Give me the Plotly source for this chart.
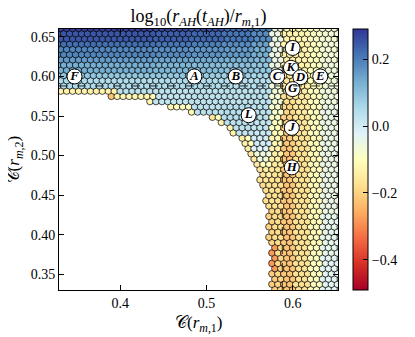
import numpy as np
import plotly.graph_objects as go

# --- read-off data ---------------------------------------------------------
# colour table: value of log10(r_AH(t_AH)/r_m,1) read per block
# columns = C(r_m,1) block centres, rows = C(r_m,2) block centres (top -> bottom)
tab_c1 = [0.34, 0.38, 0.42, 0.46, 0.50, 0.54, 0.568, 0.583, 0.596, 0.61, 0.625, 0.642]
tab_c2 = [0.66, 0.65, 0.64, 0.63, 0.62, 0.61, 0.60, 0.59, 0.58, 0.57, 0.56, 0.55,
          0.54, 0.53, 0.52, 0.51, 0.50, 0.49, 0.48, 0.47, 0.46, 0.45, 0.44, 0.43,
          0.42, 0.41, 0.40, 0.39, 0.38, 0.37, 0.36, 0.35, 0.34, 0.33]
n = np.nan
tab_val = [
    [0.28, 0.28, 0.28, 0.27, 0.26, 0.23, 0.20, -0.05, -0.12, -0.12, -0.09, -0.07],
    [0.25, 0.25, 0.25, 0.24, 0.23, 0.21, 0.18, -0.05, -0.13, -0.12, -0.09, -0.07],
    [0.22, 0.22, 0.22, 0.21, 0.20, 0.18, 0.15, -0.05, -0.13, -0.13, -0.10, -0.07],
    [0.19, 0.19, 0.19, 0.18, 0.17, 0.16, 0.13, -0.05, -0.14, -0.13, -0.10, -0.07],
    [0.16, 0.16, 0.16, 0.15, 0.14, 0.13, 0.11, -0.05, -0.14, -0.13, -0.10, -0.07],
    [0.13, 0.13, 0.13, 0.12, 0.11, 0.10, 0.09, -0.05, -0.15, -0.13, -0.10, -0.06],
    [0.09, 0.09, 0.09, 0.09, 0.08, 0.07, 0.06, -0.05, -0.15, -0.14, -0.10, -0.06],
    [0.05, 0.05, 0.05, 0.05, 0.05, 0.04, 0.04, -0.06, -0.16, -0.14, -0.10, -0.06],
    [-0.13, -0.13, 0.03, 0.03, 0.03, 0.03, 0.03, -0.07, -0.17, -0.15, -0.10, -0.06],
    [-0.13, -0.13, -0.12, 0.02, 0.03, 0.03, 0.03, -0.07, -0.18, -0.15, -0.10, -0.06],
    [n, n, n, -0.10, 0.03, 0.04, 0.03, -0.08, -0.19, -0.15, -0.10, -0.05],
    [n, n, n, n, -0.10, 0.04, 0.03, -0.09, -0.20, -0.16, -0.10, -0.05],
    [n, n, n, n, n, 0.03, 0.02, -0.10, -0.20, -0.16, -0.10, -0.05],
    [n, n, n, n, n, 0.02, 0.01, -0.11, -0.21, -0.16, -0.10, -0.05],
    [n, n, n, n, n, -0.10, 0.00, -0.12, -0.21, -0.17, -0.11, -0.05],
    [n, n, n, n, n, -0.12, -0.02, -0.13, -0.22, -0.17, -0.11, -0.05],
    [n, n, n, n, n, n, -0.06, -0.14, -0.22, -0.17, -0.11, -0.05],
    [n, n, n, n, n, n, -0.10, -0.15, -0.22, -0.17, -0.11, -0.05],
    [n, n, n, n, n, n, -0.14, -0.16, -0.22, -0.17, -0.11, -0.05],
    [n, n, n, n, n, n, -0.16, -0.17, -0.22, -0.17, -0.11, -0.05],
    [n, n, n, n, n, n, -0.17, -0.17, -0.22, -0.17, -0.11, -0.05],
    [n, n, n, n, n, n, -0.17, -0.17, -0.22, -0.17, -0.11, -0.05],
    [n, n, n, n, n, n, -0.17, -0.17, -0.22, -0.17, -0.11, -0.05],
    [n, n, n, n, n, n, -0.17, -0.18, -0.22, -0.17, -0.11, -0.05],
    [n, n, n, n, n, n, -0.17, -0.18, -0.22, -0.17, -0.11, -0.04],
    [n, n, n, n, n, n, -0.17, -0.18, -0.22, -0.17, -0.11, -0.04],
    [n, n, n, n, n, n, -0.18, -0.18, -0.22, -0.17, -0.11, -0.04],
    [n, n, n, n, n, n, -0.18, -0.18, -0.22, -0.17, -0.11, -0.04],
    [n, n, n, n, n, n, -0.18, -0.18, -0.22, -0.17, -0.10, -0.04],
    [n, n, n, n, n, n, -0.18, -0.19, -0.22, -0.17, -0.10, -0.03],
    [n, n, n, n, n, n, -0.18, -0.19, -0.22, -0.17, -0.10, -0.03],
    [n, n, n, n, n, n, -0.18, -0.19, -0.22, -0.17, -0.10, -0.03],
    [n, n, n, n, n, n, -0.18, -0.19, -0.22, -0.17, -0.10, -0.03],
    [n, n, n, n, n, n, -0.18, -0.19, -0.22, -0.17, -0.10, -0.03],
]

# left edge of the sampled region below the dashed line, and colour of the edge cell
bnd_c2 = [0.325, 0.350, 0.362, 0.414, 0.4525, 0.478, 0.492, 0.513, 0.535, 0.55, 0.555, 0.560, 0.567, 0.5745, 0.578]
bnd_c1 = [0.578, 0.577, 0.577, 0.574, 0.570, 0.562, 0.557, 0.547, 0.525, 0.502, 0.482, 0.467, 0.440, 0.394, 0.330]
bnd_val = [-0.21, -0.21, -0.28, -0.2, -0.18, -0.16, -0.15, -0.14, -0.13, -0.16, -0.12, -0.12, -0.12, -0.22, -0.13]

# labelled models
lab_names = ["F", "A", "B", "C", "K", "D", "E", "G", "I", "L", "J", "H"]
lab_c1 = [0.347, 0.486, 0.534, 0.582, 0.598, 0.609, 0.632, 0.600, 0.600, 0.549, 0.599, 0.599]
lab_c2 = [0.600, 0.600, 0.600, 0.600, 0.611, 0.599, 0.600, 0.584, 0.636, 0.551, 0.535, 0.485]

# --- hex lattice of samples ------------------------------------------------
dx = 0.0069
dy = 0.0066
xs, ys, vs = [], [], []
for k in range(-40, 14):
    y = 0.5815 + k * dy
    if y < 0.324 or y > 0.666:
        continue
    off = 0.5 * dx if k % 2 else 0.0
    first = True
    for x in np.arange(0.331 + off - dx, 0.657, dx):
        if y < 0.579 and x < np.interp(y, bnd_c2, bnd_c1) - 0.4 * dx:
            continue
        iy = int(np.argmin(np.abs(np.array(tab_c2) - y)))
        if y < 0.579 and first:
            ib = int(np.argmin(np.abs(np.array(bnd_c2) - y)))
            v = bnd_val[ib]
        else:
            row = np.array(tab_val[iy])
            ix = int(np.argmin(np.abs(np.array(tab_c1) - x)))
            v = row[ix]
            while np.isnan(v):
                ix += 1
                v = row[ix]
        first = False
        xs.append(x)
        ys.append(y)
        vs.append(v)

fig = go.Figure()

fig.add_trace(go.Scatter(
    x=xs, y=ys, mode="markers",
    marker=dict(
        size=6.6, color=vs, colorscale="RdYlBu", cmin=-0.49, cmax=0.29,
        line=dict(color="black", width=0.7),
        colorbar=dict(
            thickness=15, len=1.0, y=0.5, yanchor="middle", ypad=0,
            x=1.053, xanchor="left", xpad=0,
            outlinewidth=1, outlinecolor="black",
            ticks="inside", ticklen=5, tickcolor="black",
            tickvals=[-0.4, -0.2, 0.0, 0.2],
            ticktext=["\u22120.4", "\u22120.2", "0.0", "0.2"],
            tickfont=dict(size=14, color="black", family="Liberation Serif"),
        ),
    ),
    showlegend=False, hoverinfo="skip",
))

# Dashed Guide Lines #
fig.add_shape(type="line", xref="paper", x0=0, x1=1, y0=0.588, y1=0.588,
              line=dict(color="black", width=0.8, dash="dash"))
fig.add_shape(type="line", yref="paper", x0=0.588, x1=0.588, y0=0, y1=1,
              line=dict(color="black", width=0.8, dash="dash"))

# Labels #
fig.add_trace(go.Scatter(
    x=lab_c1, y=lab_c2, mode="markers+text", text=lab_names,
    textposition="middle center",
    textfont=dict(size=13, color="black", family="Liberation Serif",
                  style="italic", weight="bold"),
    marker=dict(size=15, color="white", line=dict(color="black", width=1)),
    showlegend=False, hoverinfo="skip",
))

axis_font = dict(size=14, color="black", family="Liberation Serif")
fig.update_xaxes(
    range=[0.329, 0.6526], tickvals=[0.4, 0.5, 0.6], ticktext=["0.4", "0.5", "0.6"],
    ticks="inside", ticklen=5, tickcolor="black", showline=True, linecolor="black",
    linewidth=1, mirror="ticks", showgrid=False, zeroline=False, tickfont=axis_font,
    automargin=False,
)
fig.update_yaxes(
    range=[0.330, 0.660], tickvals=[0.35, 0.40, 0.45, 0.50, 0.55, 0.60, 0.65],
    ticktext=["0.35", "0.40", "0.45", "0.50", "0.55", "0.60", "0.65"],
    ticks="inside", ticklen=5, tickcolor="black", showline=True, linecolor="black",
    linewidth=1, mirror="ticks", showgrid=False, zeroline=False, tickfont=axis_font,
    automargin=False,
)

# Axis Titles #
title_font = dict(size=17, color="black", family="Liberation Serif")
fig.add_annotation(
    text="\U0001D49E(<i>r</i><sub><i>m</i>,1</sub>)", xref="paper", yref="paper",
    x=0.5, y=-0.13, xanchor="center", yanchor="middle", showarrow=False, font=title_font,
)
fig.add_annotation(
    text="\U0001D49E(<i>r</i><sub><i>m</i>,2</sub>)", xref="paper", yref="paper",
    x=-0.158, y=0.5, xanchor="center", yanchor="middle", showarrow=False,
    textangle=-90, font=title_font,
)

# page body adds an 8px margin, so the figure is sized to fit the window
fig.update_layout(
    width=407, height=329,
    margin=dict(l=51, r=73, t=21, b=47),
    plot_bgcolor="white", paper_bgcolor="white",
    title=dict(
        text="log<sub>10</sub>(<i>r</i><sub><i>AH</i></sub>(<i>t</i><sub><i>AH</i></sub>)/<i>r</i><sub><i>m</i>,1</sub>)",
        x=0.5, xref="paper", xanchor="center", y=0.995, yanchor="top",
        font=dict(size=18, color="black", family="Liberation Serif"),
    ),
)

fig.write_html("out.html")
